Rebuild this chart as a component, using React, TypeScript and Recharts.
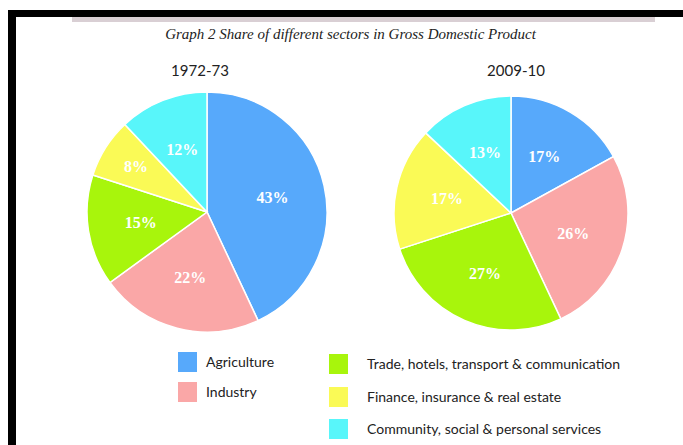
import React from 'react';
import { PieChart, Pie, Cell } from 'recharts';

const sectors = [
  'Agriculture',
  'Industry',
  'Trade, hotels, transport & communication',
  'Finance, insurance & real estate',
  'Community, social & personal services',
];
const share1972 = [43, 22, 15, 8, 12];
const share2009 = [17, 26, 27, 17, 13];
const periods = ['1972-73', '2009-10'];
const chartTitle = 'Graph 2 Share of different sectors in Gross Domestic Product';

const colors = ['#57A9FB', '#FAA7A7', '#A8F50C', '#FAFA56', '#58F6FA'];

const data1 = sectors.map((name, i) => ({ name, value: share1972[i] }));
const data2 = sectors.map((name, i) => ({ name, value: share2009[i] }));

const RAD = Math.PI / 180;

const renderLabel = (props: any) => {
  const { cx, cy, midAngle, outerRadius, value, percent } = props;
  const f = percent < 0.1 ? 0.7 : 0.56;
  const r = outerRadius * f;
  const x = cx + r * Math.cos(-midAngle * RAD);
  const y = cy + r * Math.sin(-midAngle * RAD);
  return (
    <text
      x={x}
      y={y}
      fill="#ffffff"
      textAnchor="middle"
      dominantBaseline="central"
      fontFamily="'Liberation Serif', 'DejaVu Serif', serif"
      fontWeight="bold"
      fontSize={16}
    >
      {value}%
    </text>
  );
};

const legendFont = "Lato, 'Open Sans', sans-serif";

export default function App() {
  return (
    <div style={{ position: 'absolute', left: 0, top: 0, width: 683, height: 445, background: '#fff', overflow: 'hidden' }}>
      {/* frame */}
      <div style={{ position: 'absolute', left: 8, top: 10, width: 675, height: 7, background: '#000' }} />
      <div style={{ position: 'absolute', left: 8, top: 10, width: 8, height: 435, background: '#000' }} />
      <div style={{ position: 'absolute', left: 72, top: 17, width: 583, height: 5, background: '#D9CFD4' }} />
      <div
        style={{
          position: 'absolute',
          left: 0,
          width: 683,
          top: 26,
          textAlign: 'center',
          fontFamily: "'Liberation Serif', serif",
          fontStyle: 'italic',
          fontSize: 15,
          color: '#222',
          paddingLeft: 18,
          boxSizing: 'border-box',
        }}
      >
        {chartTitle}
      </div>
      <div style={{ position: 'absolute', left: 150, width: 100, top: 61, textAlign: 'center', fontFamily: legendFont, fontSize: 15, color: '#222' }}>
        {periods[0]}
      </div>
      <div style={{ position: 'absolute', left: 466, width: 100, top: 61, textAlign: 'center', fontFamily: legendFont, fontSize: 15, color: '#222' }}>
        {periods[1]}
      </div>
      <div style={{ position: 'absolute', left: 0, top: 0 }}>
        <PieChart width={683} height={445} margin={{ top: 0, right: 0, bottom: 0, left: 0 }}>
          <Pie
            data={data1}
            dataKey="value"
            nameKey="name"
            cx={207}
            cy={212}
            outerRadius={120}
            startAngle={90}
            endAngle={-270}
            stroke="#ffffff"
            strokeWidth={1.5}
            label={renderLabel}
            labelLine={false}
            isAnimationActive={false}
          >
            {data1.map((d, i) => (
              <Cell key={d.name} fill={colors[i]} />
            ))}
          </Pie>
          <Pie
            data={data2}
            dataKey="value"
            nameKey="name"
            cx={511}
            cy={213}
            outerRadius={117}
            startAngle={90}
            endAngle={-270}
            stroke="#ffffff"
            strokeWidth={1.5}
            label={renderLabel}
            labelLine={false}
            isAnimationActive={false}
          >
            {data2.map((d, i) => (
              <Cell key={d.name} fill={colors[i]} />
            ))}
          </Pie>
        </PieChart>
      </div>
      {sectors.map((name, i) => {
        const left = i < 2;
        const row = left ? i : i - 2;
        const top = left ? 352 + row * 30 : 354 + row * 32.5;
        const sx = left ? 178 : 329;
        const tx = left ? 206 : 367;
        return (
          <React.Fragment key={name}>
            <div style={{ position: 'absolute', left: sx, top, width: 19, height: 20, background: colors[i] }} />
            <div
              style={{
                position: 'absolute',
                left: tx,
                top: top + 1,
                lineHeight: '18px',
                fontFamily: legendFont,
                fontSize: 14,
                color: '#222',
                whiteSpace: 'nowrap',
              }}
            >
              {name}
            </div>
          </React.Fragment>
        );
      })}
    </div>
  );
}
